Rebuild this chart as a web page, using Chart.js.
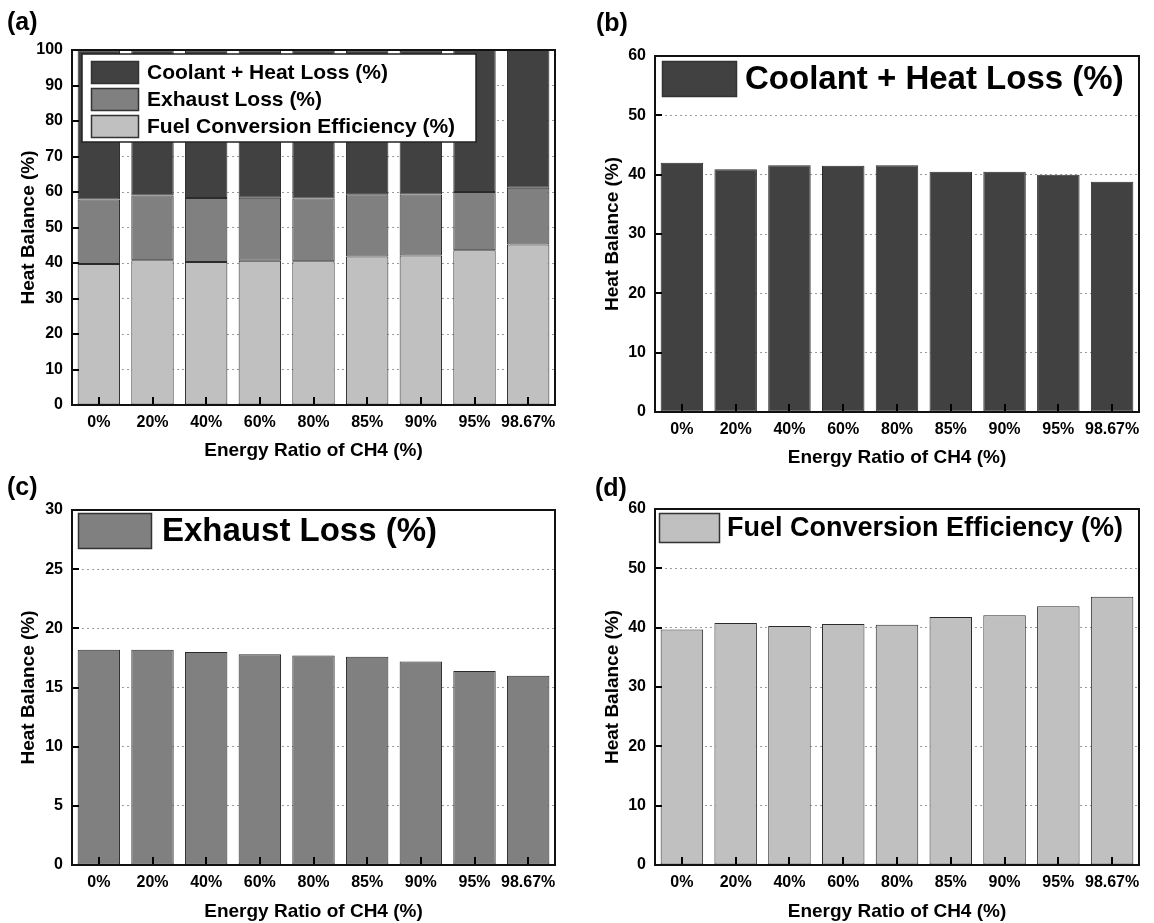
<!DOCTYPE html>
<html>
<head>
<meta charset="utf-8">
<title>Heat Balance vs Energy Ratio of CH4</title>
<script src="https://cdn.jsdelivr.net/npm/chart.js@4/dist/chart.umd.min.js"></script>
<style>
  html, body { margin: 0; padding: 0; background: #fff; }
  #page { position: relative; width: 1154px; height: 923px; overflow: hidden; }
  .panel { position: absolute; }
  .tag { position: absolute; font: bold 25px 'Liberation Sans', Arial, sans-serif; line-height: 25px; color: #000; }
</style>
</head>
<body>
<div id="page">
  <div class="panel" style="left:0;top:0"><canvas id="chartA" width="580" height="463"></canvas></div>
  <div class="panel" style="left:580px;top:0"><canvas id="chartB" width="574" height="470"></canvas></div>
  <div class="panel" style="left:0;top:463px"><canvas id="chartC" width="580" height="460"></canvas></div>
  <div class="panel" style="left:580px;top:470px"><canvas id="chartD" width="574" height="453"></canvas></div>
  <div class="tag" style="left:7px;top:9px">(a)</div>
  <div class="tag" style="left:596px;top:10px">(b)</div>
  <div class="tag" style="left:7px;top:474px">(c)</div>
  <div class="tag" style="left:595px;top:475px">(d)</div>
</div>
<script>
const ratios = ['0%', '20%', '40%', '60%', '80%', '85%', '90%', '95%', '98.67%'];
const coolantLoss = [42.0, 40.9, 41.6, 41.5, 41.6, 40.5, 40.5, 40.0, 38.8];
const exhaustLoss = [18.2, 18.2, 18.0, 17.8, 17.7, 17.6, 17.2, 16.4, 16.0];
const fuelEfficiency = [39.7, 40.8, 40.3, 40.6, 40.5, 41.8, 42.1, 43.6, 45.2];

const FONT = "'Liberation Sans', Arial, sans-serif";
const COLORS = { coolant: '#414141', exhaust: '#808080', fuel: '#c0c0c0' };

function series(label, data, color) {
  return {
    label, data,
    backgroundColor: color,
    borderColor: '#2b2b2b',
    borderWidth: 1,
    borderSkipped: false,
    barPercentage: 0.79,
    categoryPercentage: 1
  };
}

// frame, inward ticks and the legend inside the plot area
const frameAndLegend = {
  id: 'frameAndLegend',
  afterDatasetsDraw(chart, args, lg) {
    const { ctx, chartArea: a, scales } = chart;
    ctx.save();
    ctx.strokeStyle = '#000';
    ctx.lineWidth = 2;
    ctx.beginPath();
    scales.y.ticks.forEach(t => {
      const y = Math.round(scales.y.getPixelForValue(t.value));
      ctx.moveTo(a.left, y);
      ctx.lineTo(a.left + 7, y);
    });
    scales.x.ticks.forEach((t, i) => {
      const x = Math.round(scales.x.getPixelForTick(i));
      ctx.moveTo(x, a.bottom);
      ctx.lineTo(x, a.bottom - 8);
    });
    ctx.stroke();
    ctx.strokeStyle = '#111';
    ctx.strokeRect(a.left, a.top, a.right - a.left, a.bottom - a.top);

    if (lg.box) {
      ctx.fillStyle = '#fff';
      ctx.fillRect(a.left + lg.box.dx, a.top + lg.box.dy, lg.box.w, lg.box.h);
      ctx.strokeStyle = '#222';
      ctx.lineWidth = 1.5;
      ctx.strokeRect(a.left + lg.box.dx, a.top + lg.box.dy, lg.box.w, lg.box.h);
    }
    const items = chart.data.datasets.slice().reverse();
    items.forEach((ds, i) => {
      const x = a.left + lg.dx;
      const y = a.top + lg.dy + i * lg.rowH;
      ctx.fillStyle = ds.backgroundColor;
      ctx.fillRect(x, y, lg.swW, lg.swH);
      ctx.strokeStyle = '#333';
      ctx.lineWidth = 1.5;
      ctx.strokeRect(x + 0.5, y + 0.5, lg.swW - 1, lg.swH - 1);
      ctx.fillStyle = '#000';
      ctx.font = `bold ${lg.size}px ${FONT}`;
      ctx.textBaseline = 'middle';
      ctx.textAlign = 'left';
      ctx.fillText(ds.label, x + lg.swW + lg.gap, y + lg.swH / 2 + 1);
    });
    ctx.restore();
  }
};

function makeChart(id, datasets, yMax, yStep, box, legend, stacked) {
  new Chart(document.getElementById(id), {
    type: 'bar',
    data: { labels: ratios, datasets },
    options: {
      responsive: false,
      animation: false,
      layout: { padding: { left: 0, top: box.top, right: box.right, bottom: 0 } },
      plugins: {
        legend: { display: false },
        tooltip: { enabled: false },
        frameAndLegend: legend
      },
      scales: {
        x: {
          stacked,
          grid: { display: false },
          border: { display: false },
          ticks: {
            color: '#000', padding: 0, autoSkip: false, maxRotation: 0,
            font: { family: FONT, size: 16, weight: 'bold' }
          },
          title: {
            display: true, text: 'Energy Ratio of CH4 (%)', color: '#000',
            font: { family: FONT, size: 19, weight: 'bold' },
            padding: { top: 0, bottom: box.xTitlePad }
          },
          afterFit: s => { s.height = box.xHeight; }
        },
        y: {
          stacked,
          min: 0, max: yMax,
          ticks: {
            stepSize: yStep, color: '#000', padding: 9,
            font: { family: FONT, size: 16, weight: 'bold' }
          },
          grid: { color: '#9a9a9a', lineWidth: 1, drawTicks: false },
          border: { display: false, dash: [2, 3] },
          title: {
            display: true, text: 'Heat Balance (%)', color: '#000',
            font: { family: FONT, size: 19, weight: 'bold' },
            padding: { top: box.yTitlePad, bottom: 0 }
          },
          afterFit: s => { s.width = box.yWidth; }
        }
      }
    },
    plugins: [frameAndLegend]
  });
}

// (a) stacked heat balance
makeChart('chartA', [
  series('Fuel Conversion Efficiency (%)', fuelEfficiency, COLORS.fuel),
  series('Exhaust Loss (%)', exhaustLoss, COLORS.exhaust),
  series('Coolant + Heat Loss (%)', coolantLoss, COLORS.coolant)
], 100, 10,
  { top: 50, right: 25, yWidth: 72, xHeight: 58, yTitlePad: 17, xTitlePad: 1 },
  { box: { dx: 10, dy: 4, w: 394, h: 88 }, dx: 19, dy: 11, swW: 48, swH: 23, rowH: 27, gap: 8, size: 21 },
  true);

// (b) coolant + heat loss
makeChart('chartB', [series('Coolant + Heat Loss (%)', coolantLoss, COLORS.coolant)], 60, 10,
  { top: 56, right: 15, yWidth: 75, xHeight: 58, yTitlePad: 21, xTitlePad: 1 },
  { dx: 7, dy: 5, swW: 75, swH: 36, rowH: 0, gap: 8, size: 33 },
  false);

// (c) exhaust loss
makeChart('chartC', [series('Exhaust Loss (%)', exhaustLoss, COLORS.exhaust)], 30, 5,
  { top: 47, right: 25, yWidth: 72, xHeight: 58, yTitlePad: 17, xTitlePad: 0 },
  { dx: 6, dy: 3, swW: 74, swH: 36, rowH: 0, gap: 10, size: 33 },
  false);

// (d) fuel conversion efficiency
makeChart('chartD', [series('Fuel Conversion Efficiency (%)', fuelEfficiency, COLORS.fuel)], 60, 10,
  { top: 39, right: 15, yWidth: 75, xHeight: 58, yTitlePad: 21, xTitlePad: 0 },
  { dx: 4, dy: 4, swW: 61, swH: 30, rowH: 0, gap: 7, size: 27 },
  false);
</script>
</body>
</html>
